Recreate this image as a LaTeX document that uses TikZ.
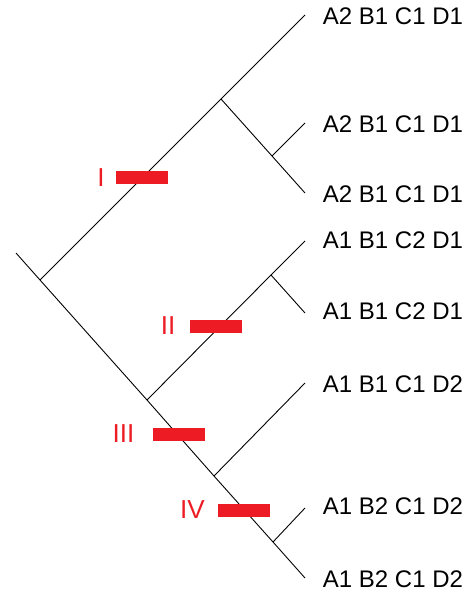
\documentclass[tikz,border=0pt]{standalone}
\usepackage{fontspec}
\setmainfont{Liberation Sans}
\usetikzlibrary{positioning}
\definecolor{synred}{HTML}{ED1C24}
\tikzset{
  leaf/.style={anchor=west,inner sep=0pt,font=\fontsize{24}{24}\selectfont},
  synbar/.style={fill=synred,minimum width=52pt,minimum height=13pt,inner sep=0pt},
  synlabel/.style={text=synred,inner sep=0pt,font=\fontsize{26}{26}\selectfont}
}
\begin{document}
\begin{tikzpicture}[x=1pt,y=-1pt,line width=0.9pt]
\useasboundingbox (0,0) rectangle (471,593);
\coordinate (r) at (16,253);
\coordinate (j1) at (40,280);
\coordinate (j2) at (221,99);
\coordinate (j3) at (272,156);
\coordinate (j4) at (147,400);
\coordinate (j5) at (271,275);
\coordinate (j6) at (214,476);
\coordinate (j7) at (273,542);
\coordinate (l1) at (305,15);
\coordinate (l2) at (305,123);
\coordinate (l3) at (305,193);
\coordinate (l4) at (305,241);
\coordinate (l5) at (305,313);
\coordinate (l6) at (305,383);
\coordinate (l7) at (305,508);
\coordinate (l8) at (305,578);
\draw (r) -- (j1) -- (j4) -- (j6) -- (j7) -- (l8);
\draw (j1) -- (j2) -- (l1);
\draw (j2) -- (j3) -- (l3);
\draw (j3) -- (l2);
\draw (j4) -- (j5) -- (l4);
\draw (j5) -- (l5);
\draw (j6) -- (l6);
\draw (j7) -- (l7);
\node[leaf] (t1) at (322.5,16) {A2 B1 C1 D1};
\node[leaf] (t2) at (322.5,124) {A2 B1 C1 D1};
\node[leaf] (t3) at (322.5,194) {A2 B1 C1 D1};
\node[leaf] (t4) at (322.5,240) {A1 B1 C2 D1};
\node[leaf] (t5) at (322.5,311) {A1 B1 C2 D1};
\node[leaf] (t6) at (322.5,384) {A1 B1 C1 D2};
\node[leaf] (t7) at (322.5,506) {A1 B2 C1 D2};
\node[leaf] (t8) at (322.5,579) {A1 B2 C1 D2};
\node[synbar] (bI) at (142,178) {};
\node[synbar] (bII) at (215.5,326) {};
\node[synbar] (bIII) at (179,434) {};
\node[synbar] (bIV) at (244,510.5) {};
\node[synlabel] (nI) at (101,178) {I};
\node[synlabel] (nII) at (168,326) {II};
\node[synlabel] (nIII) at (123.5,434) {III};
\node[synlabel] (nIV) at (192.5,510) {IV};
\end{tikzpicture}
\end{document}
